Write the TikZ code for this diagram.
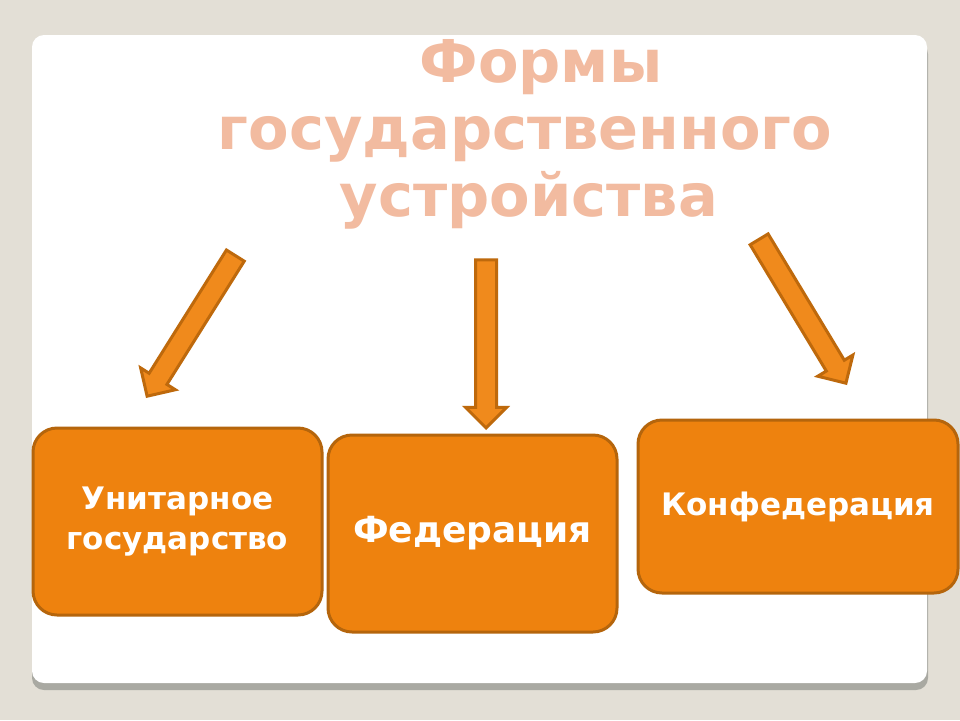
\documentclass[tikz,border=0pt]{standalone}
\usepackage{fontspec}
\setmainfont{DejaVu Sans}
\usetikzlibrary{positioning,shapes.arrows}

\definecolor{slidebg}{HTML}{E3DFD6}
\definecolor{panelshadow}{HTML}{A9A9A2}
\definecolor{titlepink}{HTML}{F2BBA0}
\definecolor{boxfill}{HTML}{EE820E}
\definecolor{boxline}{HTML}{B5650C}
\definecolor{arrowfill}{HTML}{F08A1C}
\definecolor{arrowline}{HTML}{BE690C}

\tikzset{
	formbox/.style = {draw = boxline, fill = boxfill, line width = 3pt, rounded corners = 24pt,
		text = white, font = \bfseries, align = center, inner sep = 0pt},
	blockarrow/.style = {single arrow, draw = arrowline, fill = arrowfill, line width = 3pt,
		single arrow head extend = 10pt, single arrow tip angle = 90,
		inner xsep = 0pt, inner ysep = 9pt, anchor = tip}
}

\begin{document}
\begin{tikzpicture}[x = 1pt, y = -1pt]

% slide background and white panel
\fill[slidebg] (0, 0) rectangle (960, 720);
\fill[panelshadow, rounded corners = 12pt] (32, 42) rectangle (928, 690);
\fill[white, rounded corners = 12pt] (32, 35) rectangle (927, 683);

% title
\node[text = titlepink, font = \fontsize{59}{67}\selectfont\bfseries, align = center]
	(Title) at (525, 134) {\hspace*{32pt}Формы\\государственного\\\hspace*{8pt}устройства};

% the three forms
\node[formbox, minimum width = 289pt, minimum height = 187pt, font = \fontsize{31}{40}\selectfont\bfseries]
	(Unitary) at (177.5, 521.5) {Унитарное\\государство};
\node[formbox, minimum width = 289pt, minimum height = 197pt, font = \fontsize{36}{44}\selectfont\bfseries]
	(Federation) at (472.5, 533.5) {Федерация};
\node[formbox, minimum width = 320pt, minimum height = 173pt, font = \fontsize{31}{40}\selectfont\bfseries]
	(Confederation) at (798, 506.5) {Конфедерация};

% arrows from the title to each form
\node[blockarrow, minimum height = 166pt, rotate = -122.1] (ArrUnitary) at (146, 398) {};
\node[blockarrow, minimum height = 168pt, rotate = -90] (ArrFederation) at (486, 430) {};
\node[blockarrow, minimum height = 168pt, rotate = -58.9] (ArrConfederation) at (847, 385) {};

\end{tikzpicture}
\end{document}
